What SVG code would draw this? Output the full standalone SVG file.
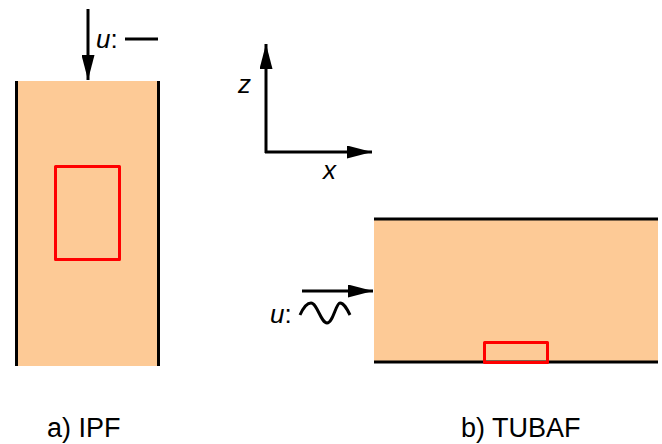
<svg xmlns="http://www.w3.org/2000/svg" width="662" height="444" viewBox="0 0 662 444">
<style>
.t{font-family:"Liberation Sans",Arial,sans-serif;font-size:26px;fill:#000}
.cap{font-size:27px}
.i{font-style:italic}
.wall{stroke:#000;stroke-width:3;fill:none}
.red{stroke:#f00;stroke-width:3;fill:none;stroke-linejoin:round}
.ln{stroke:#000;stroke-width:3;fill:none}
</style>
<defs>
<marker id="ahL" markerWidth="25" markerHeight="13" refX="25" refY="6.5" orient="auto" markerUnits="userSpaceOnUse" viewBox="0 0 25 13">
<path d="M0,0 L25,6.5 L0,13 Z" fill="#000"/>
</marker>
</defs>
<g id="ipf">
<rect x="16" y="81" width="143" height="285" fill="#fdca96"/>
<line class="wall" x1="16.5" y1="81" x2="16.5" y2="366"/>
<line class="wall" x1="158.5" y1="81" x2="158.5" y2="366"/>
<rect class="red" x="55.5" y="166.5" width="64" height="93"/>
</g>
<g id="tubaf">
<rect x="374" y="219" width="284" height="143" fill="#fdca96"/>
<line class="wall" x1="374" y1="219" x2="658" y2="219"/>
<line class="wall" x1="374" y1="362" x2="658" y2="362"/>
<rect class="red" x="484.5" y="342.5" width="63" height="20"/>
</g>
<g id="axes">
<line class="ln" x1="266" y1="153" x2="266" y2="44" marker-end="url(#ahL)"/>
<line class="ln" x1="265" y1="152" x2="372" y2="152" marker-end="url(#ahL)"/>
<text class="t i" x="238" y="93">z</text>
<text class="t i" x="323" y="179">x</text>
</g>
<g id="connectors">
<line class="ln" x1="88" y1="9" x2="88" y2="80" marker-end="url(#ahL)"/>
<line class="ln" x1="302" y1="291" x2="373" y2="291" marker-end="url(#ahL)"/>
</g>
<g id="labels">
<text class="t" x="96" y="48"><tspan class="i">u</tspan>:</text>
<line class="ln" x1="125" y1="39" x2="158" y2="39"/>
<text class="t" x="270" y="323"><tspan class="i">u</tspan>:</text>
<path class="ln" d="M300,315 C304,306 307,303 311,303 C317,303 321,323 327,323 C333,323 336,303 340,303 C344,303 347,309 350,315" stroke-width="2.5"/>
<text class="t cap" x="47" y="437">a) IPF</text>
<text class="t cap" x="461" y="437">b) TUBAF</text>
</g>
</svg>
